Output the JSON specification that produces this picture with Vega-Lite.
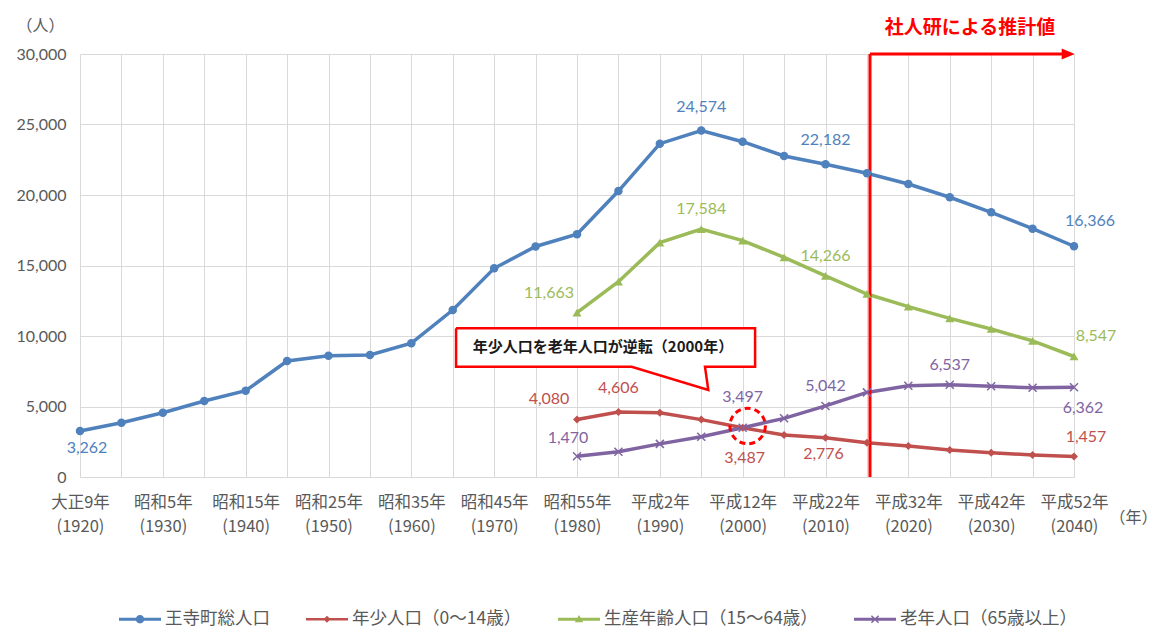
{
  "$schema": "https://vega.github.io/schema/vega-lite/v6.json",
  "width": 994,
  "height": 423,
  "autosize": {"type": "none"},
  "padding": {"left": 80, "top": 54, "right": 83, "bottom": 157},
  "background": "white",
  "config": {"view": {"stroke": null}, "font": "Noto Sans CJK JP"},
  "datasets": {
    "pop": [
      {"year": 1920, "series": "王寺町総人口", "value": 3262},
      {"year": 1925, "series": "王寺町総人口", "value": 3850},
      {"year": 1930, "series": "王寺町総人口", "value": 4560},
      {"year": 1935, "series": "王寺町総人口", "value": 5390},
      {"year": 1940, "series": "王寺町総人口", "value": 6120},
      {"year": 1945, "series": "王寺町総人口", "value": 8230},
      {"year": 1950, "series": "王寺町総人口", "value": 8600},
      {"year": 1955, "series": "王寺町総人口", "value": 8650},
      {"year": 1960, "series": "王寺町総人口", "value": 9490},
      {"year": 1965, "series": "王寺町総人口", "value": 11840},
      {"year": 1970, "series": "王寺町総人口", "value": 14800},
      {"year": 1975, "series": "王寺町総人口", "value": 16350},
      {"year": 1980, "series": "王寺町総人口", "value": 17220},
      {"year": 1985, "series": "王寺町総人口", "value": 20280},
      {"year": 1990, "series": "王寺町総人口", "value": 23640},
      {"year": 1995, "series": "王寺町総人口", "value": 24574},
      {"year": 2000, "series": "王寺町総人口", "value": 23780},
      {"year": 2005, "series": "王寺町総人口", "value": 22770},
      {"year": 2010, "series": "王寺町総人口", "value": 22182},
      {"year": 2015, "series": "王寺町総人口", "value": 21540},
      {"year": 2020, "series": "王寺町総人口", "value": 20780},
      {"year": 2025, "series": "王寺町総人口", "value": 19840},
      {"year": 2030, "series": "王寺町総人口", "value": 18770},
      {"year": 2035, "series": "王寺町総人口", "value": 17610},
      {"year": 2040, "series": "王寺町総人口", "value": 16366},
      {"year": 1980, "series": "年少人口（0～14歳）", "value": 4080},
      {"year": 1985, "series": "年少人口（0～14歳）", "value": 4606},
      {"year": 1990, "series": "年少人口（0～14歳）", "value": 4550},
      {"year": 1995, "series": "年少人口（0～14歳）", "value": 4070},
      {"year": 2000, "series": "年少人口（0～14歳）", "value": 3487},
      {"year": 2005, "series": "年少人口（0～14歳）", "value": 2980},
      {"year": 2010, "series": "年少人口（0～14歳）", "value": 2776},
      {"year": 2015, "series": "年少人口（0～14歳）", "value": 2430},
      {"year": 2020, "series": "年少人口（0～14歳）", "value": 2200},
      {"year": 2025, "series": "年少人口（0～14歳）", "value": 1915},
      {"year": 2030, "series": "年少人口（0～14歳）", "value": 1725},
      {"year": 2035, "series": "年少人口（0～14歳）", "value": 1560},
      {"year": 2040, "series": "年少人口（0～14歳）", "value": 1457},
      {"year": 1980, "series": "生産年齢人口（15～64歳）", "value": 11663},
      {"year": 1985, "series": "生産年齢人口（15～64歳）", "value": 13850},
      {"year": 1990, "series": "生産年齢人口（15～64歳）", "value": 16620},
      {"year": 1995, "series": "生産年齢人口（15～64歳）", "value": 17584},
      {"year": 2000, "series": "生産年齢人口（15～64歳）", "value": 16760},
      {"year": 2005, "series": "生産年齢人口（15～64歳）", "value": 15580},
      {"year": 2010, "series": "生産年齢人口（15～64歳）", "value": 14266},
      {"year": 2015, "series": "生産年齢人口（15～64歳）", "value": 12980},
      {"year": 2020, "series": "生産年齢人口（15～64歳）", "value": 12080},
      {"year": 2025, "series": "生産年齢人口（15～64歳）", "value": 11250},
      {"year": 2030, "series": "生産年齢人口（15～64歳）", "value": 10500},
      {"year": 2035, "series": "生産年齢人口（15～64歳）", "value": 9650},
      {"year": 2040, "series": "生産年齢人口（15～64歳）", "value": 8547},
      {"year": 1980, "series": "老年人口（65歳以上）", "value": 1470},
      {"year": 1985, "series": "老年人口（65歳以上）", "value": 1790},
      {"year": 1990, "series": "老年人口（65歳以上）", "value": 2350},
      {"year": 1995, "series": "老年人口（65歳以上）", "value": 2860},
      {"year": 2000, "series": "老年人口（65歳以上）", "value": 3497},
      {"year": 2005, "series": "老年人口（65歳以上）", "value": 4160},
      {"year": 2010, "series": "老年人口（65歳以上）", "value": 5042},
      {"year": 2015, "series": "老年人口（65歳以上）", "value": 6000},
      {"year": 2020, "series": "老年人口（65歳以上）", "value": 6475},
      {"year": 2025, "series": "老年人口（65歳以上）", "value": 6537},
      {"year": 2030, "series": "老年人口（65歳以上）", "value": 6430},
      {"year": 2035, "series": "老年人口（65歳以上）", "value": 6330},
      {"year": 2040, "series": "老年人口（65歳以上）", "value": 6362}
    ]
  },
  "layer": [
    {
      "data": {"values": [
        {"year": 1965.4, "value": 10546, "o": 1},
        {"year": 2001.5, "value": 10546, "o": 2},
        {"year": 2001.5, "value": 7823, "o": 3},
        {"year": 1995.45, "value": 7823, "o": 4},
        {"year": 1995.85, "value": 6170, "o": 5},
        {"year": 1986.6, "value": 7823, "o": 6},
        {"year": 1965.4, "value": 7823, "o": 7},
        {"year": 1965.4, "value": 10546, "o": 8}
      ]},
      "mark": {"type": "line", "fill": "#ffffff", "stroke": "#ff0000", "strokeWidth": 2.5, "strokeJoin": "miter"},
      "encoding": {
        "x": {
          "field": "year", "type": "quantitative",
          "scale": {"domain": [1920, 2040], "nice": false, "zero": false},
          "title": "（年）",
          "axis": {
            "values": [1920, 1925, 1930, 1935, 1940, 1945, 1950, 1955, 1960, 1965, 1970, 1975, 1980, 1985, 1990, 1995, 2000, 2005, 2010, 2015, 2020, 2025, 2030, 2035, 2040],
            "labelExpr": "datum.value % 10 != 0 ? '' : [datum.value < 1926 ? '大正' + (datum.value - 1911) + '年' : datum.value < 1989 ? '昭和' + (datum.value - 1925) + '年' : '平成' + (datum.value - 1988) + '年', '(' + datum.value + ')']",
            "grid": true, "gridColor": "#d9d9d9", "gridWidth": 1,
            "domain": true, "domainColor": "#d9d9d9", "domainWidth": 1,
            "ticks": false,
            "labelFont": "Noto Sans CJK JP", "labelFontSize": 16.5, "labelColor": "#595959",
            "labelLineHeight": 24, "labelPadding": 17, "labelFlush": false, "labelOverlap": false, "labelBound": false,
            "titleX": 1077, "titleY": 40, "titleAlign": "right", "titleBaseline": "middle", "titleAnchor": null,
            "titleFont": "Noto Sans CJK JP", "titleFontSize": 16, "titleFontWeight": "normal", "titleColor": "#595959"
          }
        },
        "y": {
          "field": "value", "type": "quantitative",
          "scale": {"domain": [0, 30000], "nice": false, "zero": true},
          "title": "（人）",
          "axis": {
            "values": [0, 5000, 10000, 15000, 20000, 25000, 30000],
            "labelExpr": "format(datum.value, ',.0f')",
            "grid": true, "gridColor": "#d9d9d9", "gridWidth": 1,
            "domain": false, "ticks": false,
            "labelFont": "Lato", "labelFontSize": 16, "labelColor": "#595959", "labelPadding": 14,
            "titleAngle": 0, "titleX": -40, "titleY": -29, "titleAlign": "center", "titleBaseline": "middle", "titleAnchor": null,
            "titleFont": "Noto Sans CJK JP", "titleFontSize": 16, "titleFontWeight": "normal", "titleColor": "#595959"
          }
        },
        "order": {"field": "o", "type": "quantitative"}
      }
    },
    {
      "data": {"name": "pop"},
      "mark": {"type": "line", "strokeWidth": 3.5},
      "encoding": {
        "x": {"field": "year", "type": "quantitative"},
        "y": {"field": "value", "type": "quantitative"},
        "color": {
          "field": "series", "type": "nominal",
          "scale": {
            "domain": ["王寺町総人口", "年少人口（0～14歳）", "生産年齢人口（15～64歳）", "老年人口（65歳以上）"],
            "range": ["#4F81BD", "#C0504D", "#9BBB59", "#8064A2"]
          },
          "legend": {
            "orient": "none", "legendX": 39, "legendY": 544, "direction": "horizontal", "columns": 4,
            "title": null, "padding": 0,
            "labelFont": "Noto Sans CJK JP", "labelFontSize": 17.5, "labelColor": "#595959", "labelLimit": 500,
            "symbolSize": 1764, "labelOffset": 4, "columnPadding": 36,
            "encode": {
              "symbols": {
                "update": {
                  "shape": {"signal": "datum.value === '王寺町総人口' ? 'M-1,-0.071H1V0.071H-1ZM0.2,0A0.2,0.2,0,1,1,-0.2,0A0.2,0.2,0,1,1,0.2,0Z' : datum.value === '年少人口（0～14歳）' ? 'M-1,-0.06H1V0.06H-1ZM0,-0.17L0.17,0L0,0.17L-0.17,0Z' : datum.value === '生産年齢人口（15～64歳）' ? 'M-1,-0.071H1V0.071H-1ZM0,-0.2L0.2,0.14L-0.2,0.14Z' : 'M-1,-0.071H1V0.071H-1ZM-0.145,-0.195L0.195,0.145L0.145,0.195L-0.195,-0.145ZM0.145,-0.195L0.195,-0.145L-0.145,0.195L-0.195,0.145Z'"},
                  "fill": {"scale": "color", "field": "value"},
                  "fillOpacity": {"value": 1},
                  "strokeWidth": {"value": 0},
                  "opacity": {"value": 1}
                }
              }
            }
          }
        }
      }
    },
    {
      "data": {"values": [{"year": 2015.37, "value": 0, "value2": 30000}]},
      "mark": {"type": "rule", "color": "#ff0000", "strokeWidth": 3},
      "encoding": {
        "x": {"field": "year", "type": "quantitative"},
        "y": {"field": "value", "type": "quantitative"},
        "y2": {"field": "value2"}
      }
    },
    {
      "data": {"values": [{"year": 2015.37, "year2": 2039.0, "value": 30000}]},
      "mark": {"type": "rule", "color": "#ff0000", "strokeWidth": 3},
      "encoding": {
        "x": {"field": "year", "type": "quantitative"},
        "x2": {"field": "year2"},
        "y": {"field": "value", "type": "quantitative"}
      }
    },
    {
      "data": {"values": [{"year": 2039.3, "value": 30000}]},
      "mark": {"type": "point", "shape": "M-1,-0.85L1,0L-1,0.85Z", "size": 169, "filled": true, "color": "#ff0000", "opacity": 1},
      "encoding": {
        "x": {"field": "year", "type": "quantitative"},
        "y": {"field": "value", "type": "quantitative"}
      }
    },
    {
      "data": {"name": "pop"},
      "transform": [{"filter": "datum.series == '王寺町総人口'"}],
      "mark": {"type": "point", "shape": "circle", "filled": true, "size": 72, "color": "#4F81BD", "opacity": 1},
      "encoding": {
        "x": {"field": "year", "type": "quantitative"},
        "y": {"field": "value", "type": "quantitative"}
      }
    },
    {
      "data": {"name": "pop"},
      "transform": [{"filter": "datum.series == '年少人口（0～14歳）'"}],
      "mark": {"type": "point", "shape": "diamond", "filled": true, "size": 64, "color": "#C0504D", "opacity": 1},
      "encoding": {
        "x": {"field": "year", "type": "quantitative"},
        "y": {"field": "value", "type": "quantitative"}
      }
    },
    {
      "data": {"name": "pop"},
      "transform": [{"filter": "datum.series == '生産年齢人口（15～64歳）'"}],
      "mark": {"type": "point", "shape": "triangle-up", "filled": true, "size": 80, "color": "#9BBB59", "opacity": 1},
      "encoding": {
        "x": {"field": "year", "type": "quantitative"},
        "y": {"field": "value", "type": "quantitative"}
      }
    },
    {
      "data": {"name": "pop"},
      "transform": [{"filter": "datum.series == '老年人口（65歳以上）'"}],
      "mark": {"type": "point", "shape": "M-1,-1L1,1M-1,1L1,-1", "filled": false, "size": 64, "stroke": "#8064A2", "strokeWidth": 1.5, "opacity": 1},
      "encoding": {
        "x": {"field": "year", "type": "quantitative"},
        "y": {"field": "value", "type": "quantitative"}
      }
    },
    {
      "data": {"name": "pop"},
      "encoding": {
        "x": {"field": "year", "type": "quantitative"},
        "y": {"field": "value", "type": "quantitative"},
        "text": {"field": "value", "type": "quantitative", "format": ",.0f"},
        "fill": {
          "field": "series", "type": "nominal",
          "scale": {
            "domain": ["王寺町総人口", "年少人口（0～14歳）", "生産年齢人口（15～64歳）", "老年人口（65歳以上）"],
            "range": ["#4F81BD", "#C0504D", "#9BBB59", "#8064A2"]
          },
          "legend": null
        }
      },
      "layer": [
        {"transform": [{"filter": "(datum.series == '王寺町総人口' && (datum.year == 1995 || datum.year == 2010)) || (datum.series == '年少人口（0～14歳）' && datum.year == 1985)"}],
         "mark": {"type": "text", "font": "Lato", "fontSize": 16, "align": "center", "baseline": "middle", "dy": -24}},
        {"transform": [{"filter": "(datum.series == '生産年齢人口（15～64歳）' && (datum.year == 1995 || datum.year == 2010)) || (datum.series == '老年人口（65歳以上）' && (datum.year == 2010 || datum.year == 2025))"}],
         "mark": {"type": "text", "font": "Lato", "fontSize": 16, "align": "center", "baseline": "middle", "dy": -20}},
        {"transform": [{"filter": "datum.series == '王寺町総人口' && datum.year == 1920"}],
         "mark": {"type": "text", "font": "Lato", "fontSize": 16, "align": "center", "baseline": "middle", "dx": 7, "dy": 17}},
        {"transform": [{"filter": "datum.series == '王寺町総人口' && datum.year == 2040"}],
         "mark": {"type": "text", "font": "Lato", "fontSize": 16, "align": "center", "baseline": "middle", "dx": 16, "dy": -25}},
        {"transform": [{"filter": "datum.series == '生産年齢人口（15～64歳）' && datum.year == 2040"}],
         "mark": {"type": "text", "font": "Lato", "fontSize": 16, "align": "center", "baseline": "middle", "dx": 22, "dy": -20}},
        {"transform": [{"filter": "(datum.series == '生産年齢人口（15～64歳）' || datum.series == '年少人口（0～14歳）') && datum.year == 1980"}],
         "mark": {"type": "text", "font": "Lato", "fontSize": 16, "align": "center", "baseline": "middle", "dx": -28, "dy": -20}},
        {"transform": [{"filter": "datum.series == '年少人口（0～14歳）' && datum.year == 2000"}],
         "mark": {"type": "text", "font": "Lato", "fontSize": 16, "align": "center", "baseline": "middle", "dx": 2, "dy": 30}},
        {"transform": [{"filter": "datum.series == '年少人口（0～14歳）' && datum.year == 2010"}],
         "mark": {"type": "text", "font": "Lato", "fontSize": 16, "align": "center", "baseline": "middle", "dx": -2, "dy": 16}},
        {"transform": [{"filter": "datum.series == '年少人口（0～14歳）' && datum.year == 2040"}],
         "mark": {"type": "text", "font": "Lato", "fontSize": 16, "align": "center", "baseline": "middle", "dx": 12, "dy": -19}},
        {"transform": [{"filter": "datum.series == '老年人口（65歳以上）' && datum.year == 1980"}],
         "mark": {"type": "text", "font": "Lato", "fontSize": 16, "align": "center", "baseline": "middle", "dx": -9, "dy": -18}},
        {"transform": [{"filter": "datum.series == '老年人口（65歳以上）' && datum.year == 2000"}],
         "mark": {"type": "text", "font": "Lato", "fontSize": 16, "align": "center", "baseline": "middle", "dy": -31}},
        {"transform": [{"filter": "datum.series == '老年人口（65歳以上）' && datum.year == 2040"}],
         "mark": {"type": "text", "font": "Lato", "fontSize": 16, "align": "center", "baseline": "middle", "dx": 9, "dy": 21}}
      ]
    },
    {
      "data": {"values": [{"year": 2000.6, "value": 3617}]},
      "mark": {"type": "point", "shape": "circle", "filled": false, "size": 1257, "stroke": "#ff0000", "strokeWidth": 3, "strokeDash": [6, 4], "opacity": 1},
      "encoding": {
        "x": {"field": "year", "type": "quantitative"},
        "y": {"field": "value", "type": "quantitative"}
      }
    },
    {
      "data": {"values": [{"year": 1983.14, "value": 9220, "label": "年少人口を老年人口が逆転（2000年）"}]},
      "mark": {"type": "text", "font": "Noto Sans CJK JP", "fontSize": 15, "fontWeight": "bold", "color": "#1a1a1a", "align": "center", "baseline": "middle"},
      "encoding": {
        "x": {"field": "year", "type": "quantitative"},
        "y": {"field": "value", "type": "quantitative"},
        "text": {"field": "label", "type": "nominal"}
      }
    },
    {
      "data": {"values": [{"year": 2027.45, "value": 31844, "label": "社人研による推計値"}]},
      "mark": {"type": "text", "font": "Noto Sans CJK JP", "fontSize": 19, "fontWeight": "bold", "color": "#ff0000", "align": "center", "baseline": "middle"},
      "encoding": {
        "x": {"field": "year", "type": "quantitative"},
        "y": {"field": "value", "type": "quantitative"},
        "text": {"field": "label", "type": "nominal"}
      }
    }
  ]
}
